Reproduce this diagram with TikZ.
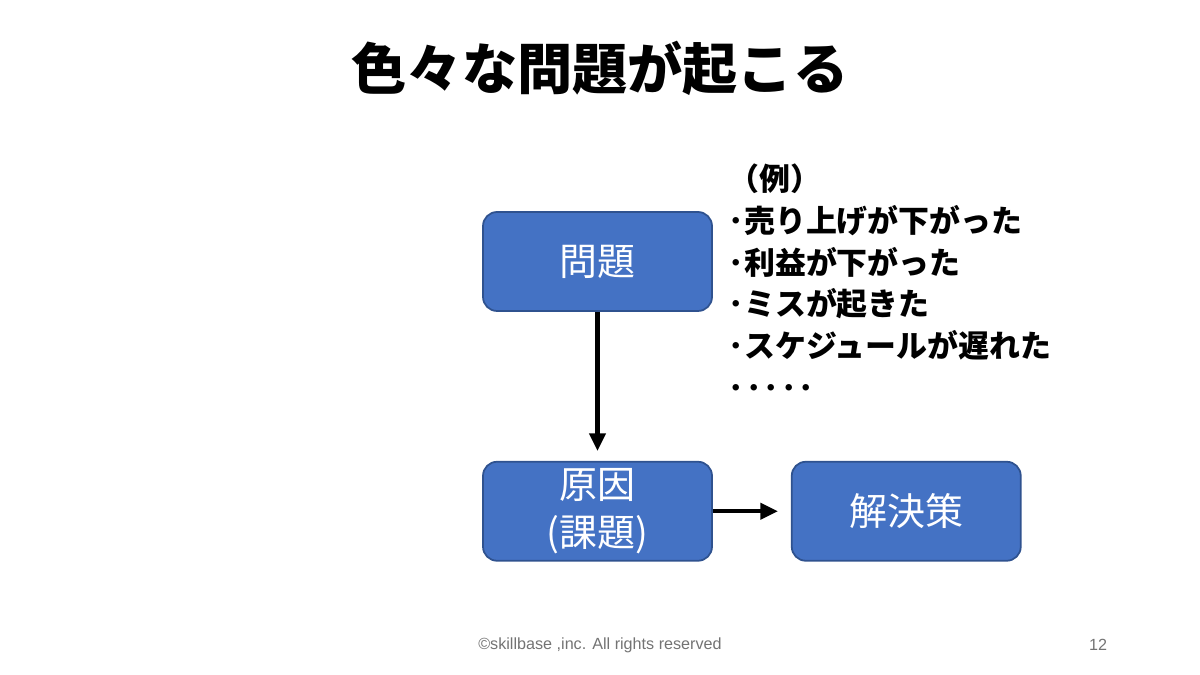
\documentclass[tikz,border=0pt]{standalone}
\usepackage{fontspec}
\setmainfont{Liberation Sans}
\newfontfamily\jp{Noto Sans CJK JP}
\usetikzlibrary{positioning,arrows.meta}
\definecolor{boxfill}{HTML}{4472C4}
\definecolor{boxline}{HTML}{2F528F}
\tikzset{
    BX/.style ={rectangle, rounded corners=4pt, draw=boxline, fill=boxfill, line width=0.5pt,
        minimum width=2.29cm, minimum height=0.99cm, inner sep=0pt, text=white, align=center,
        font=\jp\fontsize{10.8}{13.8}\selectfont},
    AR/.style ={line width=1.15pt, -{Triangle[length=5pt,width=4.6pt]}},
    TT/.style ={font=\jp\bfseries\fontsize{15.7}{18}\selectfont},
    LS/.style ={font=\jp\bfseries\fontsize{8.8}{11.9}\selectfont, align=left, inner sep=0pt},
    FT/.style ={font=\fontsize{4.6}{5.5}\selectfont, text=black!55}}

\begin{document}
\begin{tikzpicture}
        \useasboundingbox (0,0) rectangle (12,6.75);
        \node[TT] (title) at (6,6.07) {色々な問題が起こる};
        % boxes
        \node[BX] (mondai) at (5.975,4.135) {問題};
        \node[BX,below=1.49cm of mondai] (genin) {原因\\(課題)};
        \node[BX,right=0.78cm of genin] (kaiketsu) {解決策};
        \draw[AR,shorten >=0.1cm] (mondai) -- (genin);
        \draw[AR,shorten >=0.13cm] (genin) -- (kaiketsu);
        % examples
        \node[LS,anchor=north west] (rei) at (7.28,5.12)
            {（例）\\･売り上げが下がった\\･利益が下がった\\･ミスが起きた\\･スケジュールが遅れた\\･\kern0.6pt･\kern0.6pt･\kern0.6pt･\kern0.6pt･};
        % footer
        \node[FT] (copy) at (6,0.3) {©skillbase ,inc. All rights reserved};
        \node[FT] (page) at (10.98,0.3) {12};
\end{tikzpicture}
\end{document}
